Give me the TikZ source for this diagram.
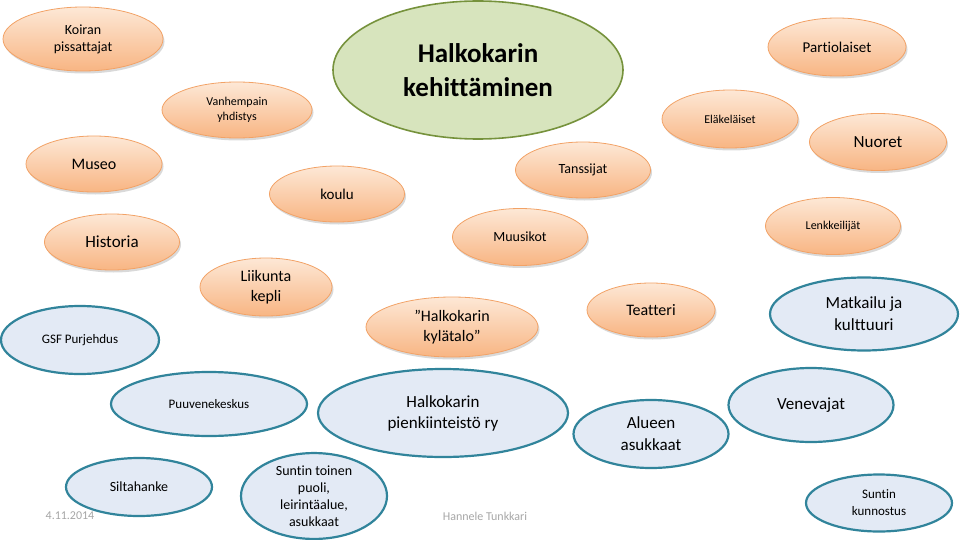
\documentclass[tikz,border=0pt]{standalone}
\usepackage{fontspec}
\setmainfont{Carlito}[Ligatures=NoCommon]
\usetikzlibrary{shapes.geometric,shadows}
\definecolor{oranssiyla}{HTML}{FDE8D6}
\definecolor{oranssiala}{HTML}{F8B583}
\definecolor{oranssiviiva}{HTML}{F2A266}
\definecolor{sininentayte}{HTML}{E3EAF5}
\definecolor{sininenviiva}{HTML}{31849B}
\definecolor{vihreatayte}{HTML}{D7E4BD}
\definecolor{vihreaviiva}{HTML}{76923C}

\begin{document}
\begin{tikzpicture}[x=1pt,y=-1pt,
    koko/.style 2 args={minimum width=#1pt, minimum height=#2pt},
    fs/.style 2 args={font=\fontsize{#1}{#2}\selectfont},
    pallo/.style={ellipse, inner sep=0pt, align=center},
    ryhma/.style={pallo, top color=oranssiyla, bottom color=oranssiala,
        draw=oranssiviiva, line width=0.8pt,
        drop shadow={opacity=0.3, shadow xshift=1.5pt, shadow yshift=-2.5pt}},
    hanke/.style={pallo, fill=sininentayte, draw=sininenviiva, line width=2.2pt},
    keskus/.style={pallo, fill=vihreatayte, draw=vihreaviiva, line width=1.6pt},
    alaviite/.style={text=black!35, fs={12}{14}}]
        \useasboundingbox (0,0) rectangle (960,540);

        % --- Keskus ---
        \node[keskus, koko={290}{138}, font=\fontsize{27}{34}\selectfont\bfseries] (keskus) at (478,70) {Halkokarin\\kehittäminen};

        % --- Oranssit ryhmät ---
        \node[ryhma, koko={160}{64}, fs={14}{17}] (koiran) at (83,39) {Koiran\\pissattajat};
        \node[ryhma, koko={150}{56}, fs={12}{15}] (vanhempain) at (237,110) {Vanhempain\\yhdistys};
        \node[ryhma, koko={138}{58}, fs={15}{18}] (partio) at (837,47) {Partiolaiset};
        \node[ryhma, koko={136}{58}, fs={12}{15}] (elakelaiset) at (730,119) {Eläkeläiset};
        \node[ryhma, koko={137}{57}, fs={17}{20}] (nuoret) at (878,142) {Nuoret};
        \node[ryhma, koko={136}{56}, fs={16}{19}] (museo) at (94,164) {Museo};
        \node[ryhma, koko={135}{56}, fs={15}{18}] (koulu) at (337,194) {koulu};
        \node[ryhma, koko={135}{56}, fs={14}{17}] (tanssijat) at (583,170) {Tanssijat};
        \node[ryhma, koko={135}{56}, fs={17}{20}] (historia) at (112,242) {Historia};
        \node[ryhma, koko={135}{57}, fs={14}{17}] (muusikot) at (520,237) {Muusikot};
        \node[ryhma, koko={135}{57}, fs={12}{15}] (lenkkeilijat) at (833,226) {Lenkkeilijät};
        \node[ryhma, koko={132}{58}, fs={16}{20}] (liikunta) at (266,287) {Liikunta\\kepli};
        \node[ryhma, koko={172}{60}, fs={16}{20}] (kylatalo) at (452,327) {”Halkokarin\\kylätalo”};
        \node[ryhma, koko={128}{54}, fs={16}{19}] (teatteri) at (651,310) {Teatteri};

        % --- Siniset hankkeet ---
        \node[hanke, koko={188}{73}, fs={17}{22}] (matkailu) at (864,314) {Matkailu ja\\kulttuuri};
        \node[hanke, koko={158}{68}, fs={13}{16}] (gsf) at (80,340) {GSF Purjehdus};
        \node[hanke, koko={196}{64}, fs={13}{16}] (puuvene) at (209,404) {Puuvenekeskus};
        \node[hanke, koko={250}{88}, fs={17}{21}] (pienkiinteisto) at (443,413) {Halkokarin\\pienkiinteistö ry};
        \node[hanke, koko={155}{68}, fs={17}{22}] (asukkaat) at (651,434) {Alueen\\asukkaat};
        \node[hanke, koko={165}{74}, fs={17}{20}] (venevajat) at (811,405) {Venevajat};
        \node[hanke, koko={146}{57}, fs={13}{17}] (kunnostus) at (879,503) {Suntin\\kunnostus};
        \node[hanke, koko={146}{58}, fs={14}{17}] (silta) at (139,487) {Siltahanke};
        \node[hanke, koko={146}{84}, fs={14}{17}] (toinenpuoli) at (314,496) {Suntin toinen\\puoli,\\leirintäalue,\\asukkaat};

        % --- Alaviitteet ---
        \node[alaviite] (pvm) at (70,516) {4.11.2014};
        \node[alaviite] (tekija) at (485,516) {Hannele Tunkkari};
    \end{tikzpicture}
\end{document}
